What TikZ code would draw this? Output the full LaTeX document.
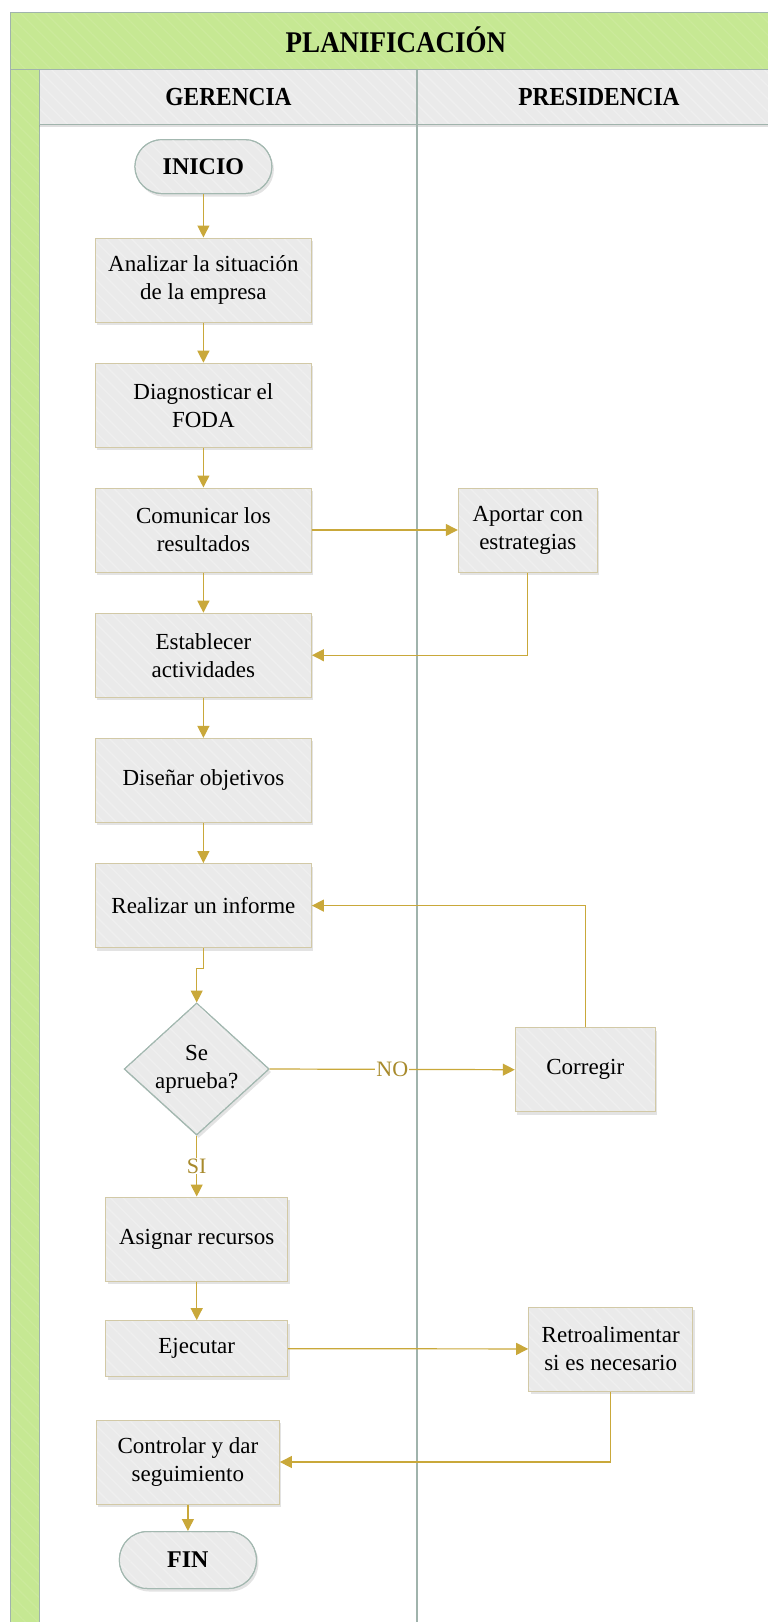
\documentclass[tikz,border=0pt]{standalone}
\usepackage{fontspec}
\setmainfont{Liberation Serif}
\usetikzlibrary{arrows.meta,shapes.geometric,shadows,patterns.meta,calc}

\definecolor{flow}{HTML}{C9A83A}
\definecolor{flowtext}{HTML}{A88A2C}
\definecolor{boxfill}{HTML}{EAEAEA}
\definecolor{boxstripe}{HTML}{EFEFEF}
\definecolor{boxline}{HTML}{D2C9A6}
\definecolor{termline}{HTML}{A3B8B0}
\definecolor{laneline}{HTML}{A0B3AC}
\definecolor{titlefill}{HTML}{C6E893}
\definecolor{titlestripe}{HTML}{CBEA9B}

\newcommand{\bodyfont}{\fontsize{23}{28}\selectfont}
\newcommand{\headfont}{\fontsize{26}{30}\selectfont\bfseries}

\tikzset{
  % faint diagonal hatching over the fill, then the outline drawn again on top
  stripes/.style 2 args={postaction={pattern={Lines[angle=-45,distance=9pt,line width=1.3pt]},pattern color=#1},
    postaction={draw=#2,line width=1pt}},
  shade box/.style={drop shadow={opacity=0.22,shadow xshift=2pt,shadow yshift=-3pt}},
  proc/.style={rectangle,draw=boxline,line width=1pt,fill=boxfill,stripes={boxstripe}{boxline},shade box,
    align=center,font=\bodyfont,inner sep=2pt,minimum height=84pt},
  term/.style={rectangle,rounded corners=27pt,draw=termline,line width=1pt,fill=boxfill,stripes={boxstripe}{termline},
    shade box,font=\fontsize{24}{28}\selectfont\bfseries,minimum width=137pt,minimum height=54pt},
  decide/.style={diamond,draw=termline,line width=1pt,fill=boxfill,stripes={boxstripe}{termline},shade box,
    align=center,font=\bodyfont,inner sep=-6pt,aspect=1.1,minimum width=145pt,minimum height=132pt},
  arr/.style={draw=flow,line width=1.2pt,-{Triangle[length=12pt,width=12pt]}},
  lbl/.style={fill=white,text=flowtext,font=\fontsize{22}{26}\selectfont,inner sep=1pt},
  lane/.style={draw=laneline,line width=1.2pt},
}

\begin{document}
\begin{tikzpicture}[x=1pt,y=-1pt]
\useasboundingbox (0,0) rectangle (768,1622);
\clip (0,0) rectangle (768,1622);

% pool frame: title band, side strip, lane header row
\path[fill=titlefill,stripes={titlestripe}{laneline}] (10,12.4) rectangle (790,69.3);
\path[fill=titlefill,stripes={titlestripe}{laneline}] (10,69.3) rectangle (39.3,1640);
\path[fill=boxfill,stripes={boxstripe}{laneline},drop shadow={opacity=0.25,shadow xshift=0pt,shadow yshift=-3pt}] (39.3,69.3) rectangle (790,124.2);
\draw[lane] (417,69.3) -- (417,1640);

\node (title) at (396,39.3) {\fontsize{30}{34}\selectfont\bfseries\scalebox{0.9}[1]{PLANIFICACIÓN}};
\node (gerencia) at (228.5,96.7) {\headfont\scalebox{0.9}[1]{GERENCIA}};
\node (presidencia) at (599,96.7) {\headfont\scalebox{0.9}[1]{PRESIDENCIA}};

% GERENCIA lane
\node[term] (inicio) at (203.4,166.6) {INICIO};
\node[proc,minimum width=216pt] (analizar) at (203.4,280) {Analizar la situación\\de la empresa};
\node[proc,minimum width=216pt] (diagnosticar) at (203.4,405.2) {Diagnosticar el\\FODA};
\node[proc,minimum width=216pt] (comunicar) at (203.4,530) {Comunicar los\\resultados};
\node[proc,minimum width=216pt] (establecer) at (203.4,655.2) {Establecer\\actividades};
\node[proc,minimum width=216pt] (disenar) at (203.4,780.4) {Diseñar objetivos};
\node[proc,minimum width=216pt] (realizar) at (203.4,905.6) {Realizar un informe};
\node[decide] (decision) at (196.7,1069) {Se\\aprueba?};
\node[proc,minimum width=182pt] (asignar) at (196.7,1239) {Asignar recursos};
\node[proc,minimum width=182pt,minimum height=56pt] (ejecutar) at (196.7,1348.6) {Ejecutar};
\node[proc,minimum width=183pt] (controlar) at (187.9,1462) {Controlar y dar\\seguimiento};
\node[term,minimum height=57pt,rounded corners=28pt] (fin) at (187.9,1560) {FIN};

% PRESIDENCIA lane
\node[proc,minimum width=139pt] (aportar) at (527.8,530) {Aportar con\\estrategias};
\node[proc,minimum width=140pt] (corregir) at (585.3,1069.7) {Corregir};
\node[proc,minimum width=164pt] (retro) at (610.7,1349) {Retroalimentar\\si es necesario};

% connectors
\draw[arr] (inicio) -- (analizar);
\draw[arr] (analizar) -- (diagnosticar);
\draw[arr] (diagnosticar) -- (comunicar);
\draw[arr] (comunicar) -- (establecer);
\draw[arr] (comunicar) -- (aportar);
\draw[arr] (aportar.south) |- (establecer.east);
\draw[arr] (establecer) -- (disenar);
\draw[arr] (disenar) -- (realizar);
\draw[arr] (realizar.south) -- ++(0,20) -| (decision.north);
\draw[arr] (decision.east) -- node[lbl] {NO} (corregir.west);
\draw[arr] (corregir.north) |- (realizar.east);
\draw[arr] (decision.south) -- node[lbl] {SI} (asignar.north);
\draw[arr] (asignar) -- (ejecutar);
\draw[arr] (ejecutar) -- (retro);
\draw[arr] (retro.south) |- (controlar.east);
\draw[arr] (controlar.south -| fin.north) -- (fin.north);
\end{tikzpicture}
\end{document}
